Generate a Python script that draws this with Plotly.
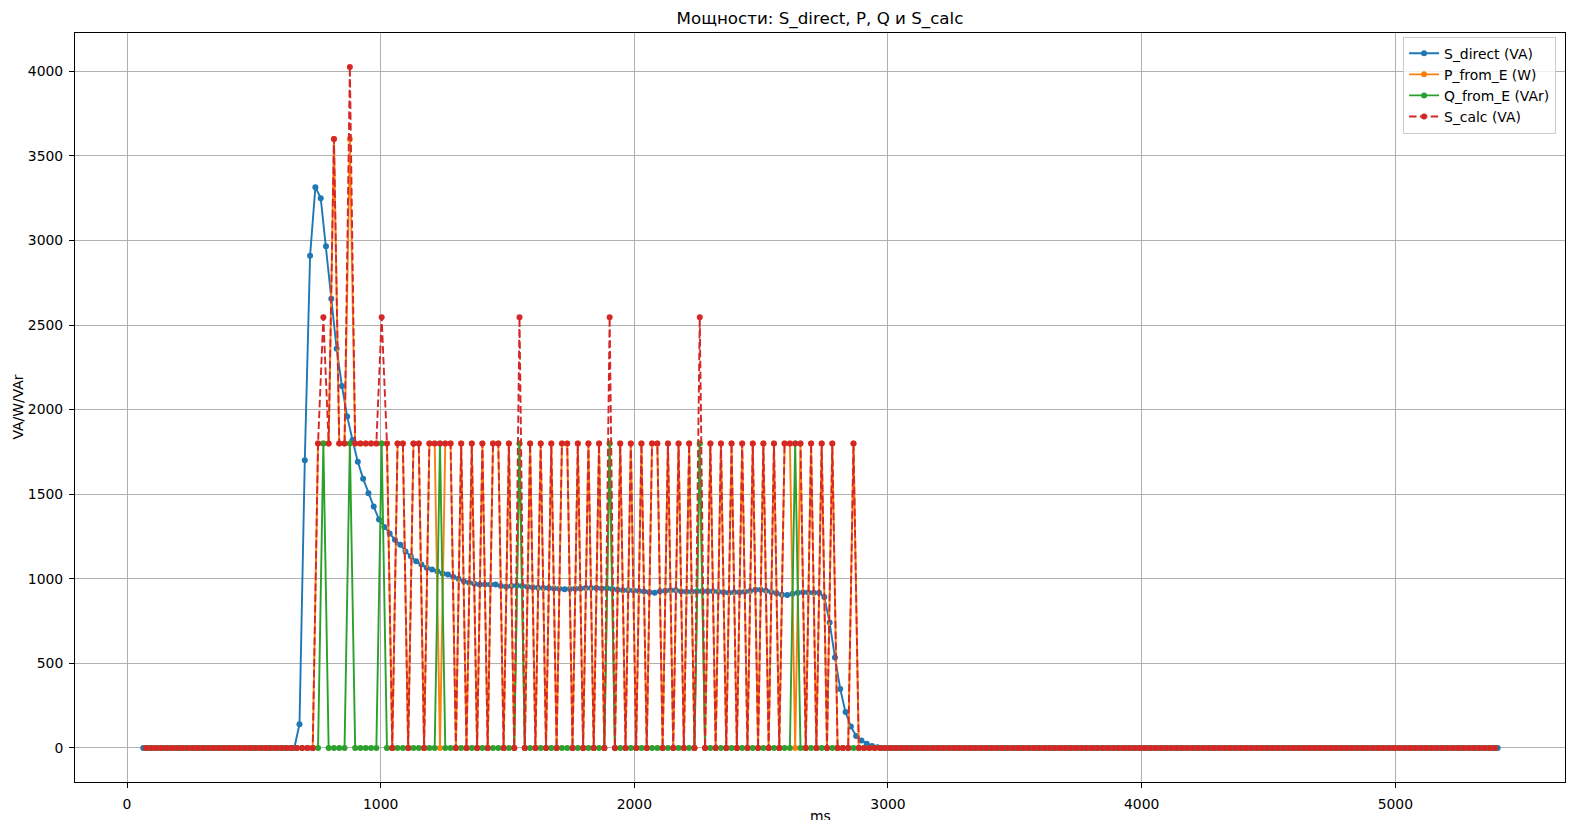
import numpy as np
import plotly.graph_objects as go

# ---------------- data ----------------
# sampling instants of the direct power (ms); idle start, then active logging period
T_START = 64
T_ACTIVE = 680
DT = 20.9
N_PRE = 30
N_REST = 227
ms_direct = list(np.linspace(T_START, T_ACTIVE, N_PRE + 1)[:-1]) + [T_ACTIVE + DT * i for i in range(N_REST)]
# energy-derived powers are plotted between two consecutive samples
ms_energy = [(a + b) / 2 for a, b in zip(ms_direct[:-1], ms_direct[1:])]

# S_direct (VA) during the active part (starting at T_ACTIVE)
s_direct_active = [
    140, 1700, 2910, 3315, 3250, 2965, 2655, 2360, 2140, 1960,
    1820, 1692, 1592, 1505, 1427, 1350, 1306, 1268, 1231, 1202,
    1162, 1133, 1104, 1084, 1065, 1055, 1045, 1031, 1025, 1010,
    1000, 986, 976, 971, 966, 966, 966, 966, 957, 953,
    957, 961, 958, 953, 950, 947, 946, 945, 943, 941,
    938, 939, 941, 943, 945, 946, 945, 943, 944, 940,
    935, 933, 933, 931, 928, 925, 921, 918, 926, 930,
    933, 932, 925, 923, 924, 927, 927, 927, 926, 923,
    920, 918, 920, 921, 924, 928, 936, 935, 930, 922,
    915, 906, 904, 912, 918, 921, 919, 918, 918, 892,
    741, 535, 349, 212, 127, 71, 45, 25, 12, 5, 0,
]
s_direct = [0] * N_PRE + s_direct_active
s_direct += [0] * (len(ms_direct) - len(s_direct))

# P_from_E (W), energy intervals from the start of the active part (rest are 0)
p_active = [
    0, 0, 0, 1800, 1800, 1800, 3600, 1800, 1800, 3600,          # 0-9
    1800, 1800, 1800, 1800, 1800, 1800, 1800, 0, 1800, 1800,    # 10-19
    0, 1800, 1800, 0, 1800, 1800, 0, 1800, 1800, 0,             # 20-29
    1800, 0, 1800, 0, 1800, 0, 1800, 1800, 0, 1800,             # 30-39
    0, 1800, 0, 1800, 0, 1800, 0, 1800, 0, 1800,                # 40-49
    1800, 0, 1800, 0, 1800, 0, 1800, 0, 1800, 0,                # 50-59
    1800, 0, 1800, 0, 1800, 0, 1800, 1800, 0, 1800,             # 60-69
    0, 1800, 0, 1800, 0, 1800, 0, 1800, 0, 1800,                # 70-79
    0, 1800, 0, 1800, 0, 1800, 0, 1800, 0, 1800,                # 80-89
    0, 1800, 1800, 0, 1800, 0, 1800, 0, 1800, 0,                # 90-99
    1800, 0, 0, 0, 1800,                                        # 100-104
]
# Q_from_E (VAr)
q_active = [
    0, 0, 0, 0, 1800, 0, 0, 0, 0, 1800,
    0, 0, 0, 0, 0, 1800, 0, 0, 0, 0,
    0, 0, 0, 0, 0, 0, 1800, 0, 0, 0,
    0, 0, 0, 0, 0, 0, 0, 0, 0, 0,
    0, 1800, 0, 0, 0, 0, 0, 0, 0, 0,
    0, 0, 0, 0, 0, 0, 0, 0, 1800, 0,
    0, 0, 0, 0, 0, 0, 0, 0, 0, 0,
    0, 0, 0, 0, 0, 1800, 0, 0, 0, 0,
    0, 0, 0, 0, 0, 0, 0, 0, 0, 0,
    0, 0, 0, 1800, 0, 0, 0, 0, 0, 0,
    0, 0, 0, 0, 0,
]
# S_calc (VA)
s_calc_active = [
    0, 0, 0, 1800, 2546, 1800, 3600, 1800, 1800, 4025,
    1800, 1800, 1800, 1800, 1800, 2546, 1800, 0, 1800, 1800,
    0, 1800, 1800, 0, 1800, 1800, 1800, 1800, 1800, 0,
    1800, 0, 1800, 0, 1800, 0, 1800, 1800, 0, 1800,
    0, 2546, 0, 1800, 0, 1800, 0, 1800, 0, 1800,
    1800, 0, 1800, 0, 1800, 0, 1800, 0, 2546, 0,
    1800, 0, 1800, 0, 1800, 0, 1800, 1800, 0, 1800,
    0, 1800, 0, 1800, 0, 2546, 0, 1800, 0, 1800,
    0, 1800, 0, 1800, 0, 1800, 0, 1800, 0, 1800,
    0, 1800, 1800, 1800, 1800, 0, 1800, 0, 1800, 0,
    1800, 0, 0, 0, 1800,
]
n_e = len(ms_energy)


def pad(active):
    vals = [0] * N_PRE + active
    return vals + [0] * (n_e - len(vals))


p_from_e = pad(p_active)
q_from_e = pad(q_active)
s_calc = pad(s_calc_active)

x_ticks = [0, 1000, 2000, 3000, 4000, 5000]
y_ticks = [0, 500, 1000, 1500, 2000, 2500, 3000, 3500, 4000]

# ---------------- figure ----------------
FONT = "DejaVu Sans"
FS = 13.9
LW = 1.9
MS = 6

fig = go.Figure()
fig.add_trace(go.Scatter(x=ms_direct, y=s_direct, mode="lines+markers", name="S_direct (VA)",
                         line=dict(color="#1f77b4", width=LW), marker=dict(size=MS, color="#1f77b4")))
fig.add_trace(go.Scatter(x=ms_energy, y=p_from_e, mode="lines+markers", name="P_from_E (W)",
                         line=dict(color="#ff7f0e", width=LW), marker=dict(size=MS, color="#ff7f0e")))
fig.add_trace(go.Scatter(x=ms_energy, y=q_from_e, mode="lines+markers", name="Q_from_E (VAr)",
                         line=dict(color="#2ca02c", width=LW), marker=dict(size=MS, color="#2ca02c")))
fig.add_trace(go.Scatter(x=ms_energy, y=s_calc, mode="lines+markers", name="S_calc (VA)",
                         line=dict(color="#d62728", width=LW, dash="7.5px,3.3px"),
                         marker=dict(size=MS, color="#d62728")))

axis_common = dict(showgrid=True, gridcolor="#b0b0b0", gridwidth=1, showline=True, mirror=True,
                   linecolor="black", linewidth=1, ticks="outside", ticklen=5, tickcolor="black",
                   zeroline=False, tickfont=dict(family=FONT, size=FS, color="black"))

# the page body adds an 8px offset; margins compensate so the plot area lands where the reference has it
fig.update_layout(
    width=1577, height=820,
    margin=dict(l=67, r=20, t=25, b=46),
    plot_bgcolor="white", paper_bgcolor="white",
    font=dict(family=FONT, size=FS, color="black"),
    title=dict(text="Мощности: S_direct, P, Q и S_calc", x=0.5, xref="paper", y=1 - 10 / 820,
               yref="container", yanchor="middle", xanchor="center",
               font=dict(family=FONT, size=16.7, color="black")),
    xaxis=dict(range=[-205, 5669], tickvals=x_ticks, ticklabelstandoff=4, **axis_common),
    yaxis=dict(range=[-201, 4226], tickvals=y_ticks, ticklabelstandoff=3, **axis_common),
    legend=dict(x=0.994, xanchor="right", y=0.995, yanchor="top", bgcolor="rgba(255,255,255,0.8)",
                bordercolor="#cccccc", borderwidth=1, font=dict(family=FONT, size=FS, color="black")),
    annotations=[
        dict(text="ms", xref="paper", yref="paper", x=0.5, y=0, xanchor="center", yanchor="top",
             yshift=-24, showarrow=False, font=dict(family=FONT, size=FS, color="black")),
        dict(text="VA/W/VAr", xref="paper", yref="paper", x=0, y=0.5, xanchor="center",
             yanchor="middle", xshift=-58, textangle=-90, showarrow=False,
             font=dict(family=FONT, size=FS, color="black")),
    ],
)

fig.write_html("out.html")
